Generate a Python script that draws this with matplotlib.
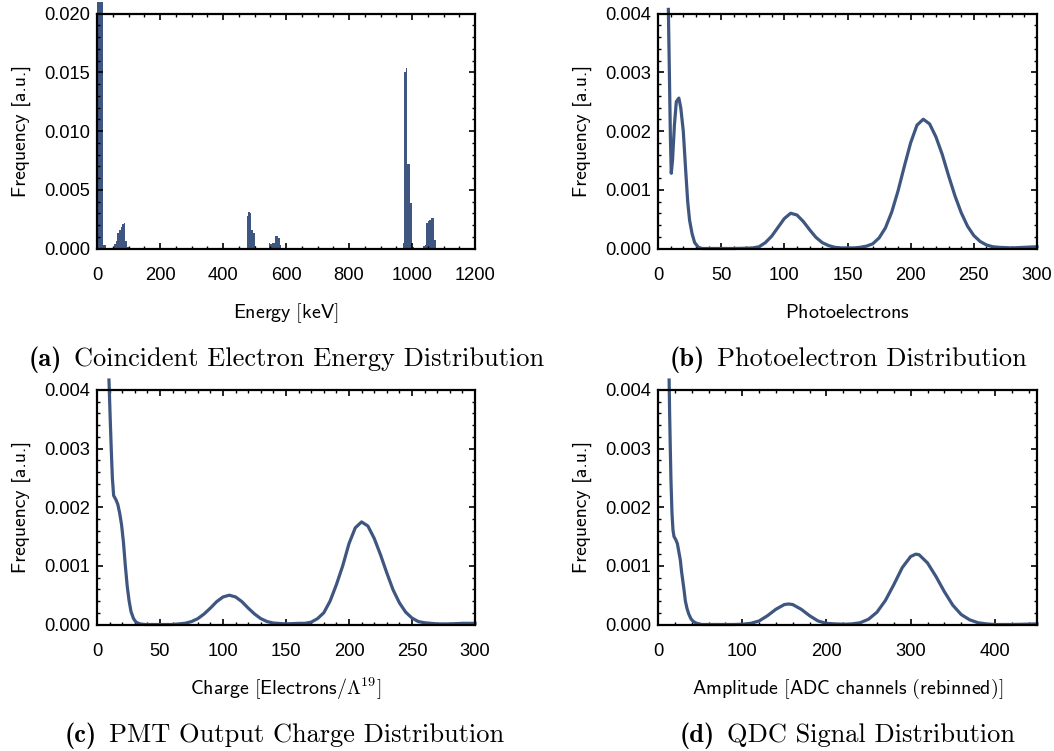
import matplotlib
matplotlib.use("Agg")
import matplotlib.pyplot as plt
from matplotlib.ticker import MultipleLocator, FormatStrFormatter

plt.rcParams['font.family'] = ['Liberation Sans', 'DejaVu Sans']
plt.rcParams['mathtext.fontset'] = 'cm'

# --- (a) coincident electron energy histogram (5 keV bins, left edges) ---
energy_bins = [0, 5, 10, 15, 20, 25,
               55, 60, 65, 70, 75, 80, 85, 90, 95,
               475, 480, 485, 490, 495, 500,
               545, 550, 555, 560, 565, 570, 575, 580,
               970, 975, 980, 985, 990, 995, 1000,
               1035, 1040, 1045, 1050, 1055, 1060, 1065, 1070]
energy_freq = [0.021, 0.021, 0.021, 0.021, 0.0003, 0.0003,
               0.0004, 0.0006, 0.0013, 0.0016, 0.0018, 0.0021, 0.0022, 0.0006, 0.0001,
               0.0028, 0.0031, 0.0030, 0.0016, 0.0013, 0.0002,
               0.0005, 0.0004, 0.0005, 0.0005, 0.0011, 0.0011, 0.0009, 0.0003,
               0.0005, 0.0150, 0.0154, 0.0072, 0.0072, 0.0039, 0.0001,
               0.0002, 0.0003, 0.0022, 0.0023, 0.0024, 0.0026, 0.0026, 0.0007]

# --- (b) photoelectron distribution ---
pe_x = [8.2, 9.0, 9.8, 10.5, 11.5, 13.0, 14.5, 16.5, 18.0, 20.0,
        22.0, 23.5, 25.0, 27.0, 29.0, 32.0, 35.0, 40, 50, 60,
        70, 75, 80, 85, 90, 95, 100, 105, 110, 115,
        120, 125, 130, 135, 140, 145, 150, 155, 160, 165,
        170, 175, 180, 185, 190, 195, 200, 205, 210, 215,
        220, 225, 230, 235, 240, 245, 250, 255, 260, 265,
        270, 280, 290, 300]
pe_y = [0.00407, 0.0030, 0.0019, 0.00128, 0.0015, 0.0021, 0.0025, 0.00256, 0.0024, 0.0020,
        0.0013, 0.0008, 0.00048, 0.00025, 0.0001, 0.00002, 0.0, 0.0, 0.0, 0.0,
        0.000005, 0.00001, 0.00003, 0.0001, 0.00021, 0.00036, 0.00051, 0.0006, 0.00057, 0.00046,
        0.00032, 0.00019, 0.0001, 0.00005, 0.00002, 0.00001, 0.00001, 0.00001, 0.00002, 0.00004,
        0.00008, 0.00018, 0.00035, 0.00062, 0.00098, 0.0014, 0.0018, 0.0021, 0.0022, 0.00212,
        0.0019, 0.0016, 0.00124, 0.0009, 0.00061, 0.00038, 0.00022, 0.00012, 0.00006, 0.00003,
        0.00002, 0.00001, 0.00002, 0.00003]

# --- (c) PMT output charge distribution ---
ch_x = [9.5, 10.5, 11.3, 12.2, 13.2, 15.0, 16.5, 18.0, 19.5, 21.0,
        22.5, 24.0, 25.5, 27.0, 29.0, 31.0, 34.0, 38.0, 50, 60,
        65, 70, 75, 80, 85, 90, 95, 100, 105, 110,
        115, 120, 125, 130, 135, 140, 150, 160, 165, 170,
        175, 180, 185, 190, 195, 200, 205, 210, 215, 220,
        225, 230, 235, 240, 245, 250, 255, 260, 270, 280,
        290, 300]
ch_y = [0.00417, 0.0035, 0.0030, 0.0025, 0.0022, 0.00213, 0.00205, 0.0019, 0.0017, 0.0014,
        0.0010, 0.00065, 0.0004, 0.00022, 0.0001, 0.00004, 0.00001, 0.0, 0.0, 0.0,
        0.00001, 0.000022, 0.00005, 0.0001, 0.00018, 0.00028, 0.00039, 0.00047, 0.0005, 0.00047,
        0.00039, 0.00028, 0.00018, 0.0001, 0.00005, 0.000025, 0.00001, 0.00002, 0.00002, 0.00004,
        0.0001, 0.0002, 0.0004, 0.00068, 0.001, 0.00138, 0.00165, 0.00175, 0.00168, 0.00147,
        0.00119, 0.00088, 0.00059, 0.00037, 0.00021, 0.00011, 0.00005, 0.00003, 0.00001, 0.00001,
        0.00002, 0.00002]

# --- (d) QDC signal distribution ---
qd_x = [13.2, 13.8, 14.6, 15.4, 16.6, 17.8, 19.0, 21.0, 23.0, 25.0,
        26.5, 28.0, 29.5, 31.0, 32.5, 34.5, 36.5, 39.0, 42.0, 46.0,
        52.0, 70, 90, 100, 110, 120, 130, 140, 150, 155,
        160, 170, 180, 190, 200, 210, 222, 230, 240, 250,
        260, 270, 280, 290, 300, 306, 310, 320, 330, 340,
        350, 360, 370, 380, 390, 400, 420, 450]
qd_y = [0.00417, 0.0036, 0.0030, 0.00246, 0.0019, 0.00161, 0.0015, 0.00145, 0.00138, 0.00122,
        0.0011, 0.0009, 0.00074, 0.00058, 0.0004, 0.00027, 0.00018, 0.0001, 0.00005, 0.00002,
        0.0, 0.0, 0.0, 0.000005, 0.00002, 0.00006, 0.00015, 0.00026, 0.00034, 0.00035,
        0.00034, 0.00026, 0.00015, 0.00006, 0.00002, 0.00001, 0.000005, 0.00001, 0.00003, 0.00009,
        0.00021, 0.00041, 0.00068, 0.00097, 0.00116, 0.0012, 0.00119, 0.00105, 0.00082, 0.00056,
        0.00033, 0.00017, 0.00008, 0.00003, 0.00001, 0.0, 0.0, 0.00001]

color = '#3e5680'
W, H = 1054, 751

fig = plt.figure(figsize=(W / 100, H / 100), dpi=100)


def make_ax(left, top, right, bottom):
    return fig.add_axes([left / W, 1 - bottom / H, (right - left) / W, (bottom - top) / H])


ax_a = make_ax(97, 13.5, 475, 248.5)
ax_b = make_ax(658, 13.5, 1037, 248.5)
ax_c = make_ax(97, 390, 475, 624.5)
ax_d = make_ax(658, 390, 1037, 624.5)


def style(ax, xmax, xmaj, xmin, ymax, ymaj, xlabel):
    ax.set_xlim(0, xmax)
    ax.set_ylim(0, ymax)
    ax.xaxis.set_major_locator(MultipleLocator(xmaj))
    ax.xaxis.set_minor_locator(MultipleLocator(xmin))
    ax.yaxis.set_major_locator(MultipleLocator(ymaj))
    ax.yaxis.set_minor_locator(MultipleLocator(ymaj / 5))
    ax.yaxis.set_major_formatter(FormatStrFormatter('%.3f'))
    ax.tick_params(which='both', direction='in', top=True, right=True,
                   labelsize=13.2, color='black')
    ax.tick_params(axis='x', pad=13)
    ax.tick_params(axis='y', pad=5)
    ax.tick_params(which='major', length=4.5, width=1.2)
    ax.tick_params(which='minor', length=2.5, width=1.0)
    for sp in ax.spines.values():
        sp.set_linewidth(1.6)
    ax.text(0.5, -0.273, xlabel, transform=ax.transAxes, ha='center', va='center', fontsize=14.4)
    ax.text(-0.199, 0.5, 'Frequency [a.u.]', transform=ax.transAxes, family='cmss10',
            ha='center', va='center', rotation=90, fontsize=14.2)


def caption(x_start, y_base, label, text):
    # bold sub-figure tag followed by the caption in roman
    fig.text((x_start - 12) / W, 1 - y_base / H, label, ha='right', va='baseline',
             family='cmb10', fontsize=19)
    fig.text(x_start / W, 1 - y_base / H, text, ha='left', va='baseline',
             family='cmr10', fontsize=19)


ax_a.bar(energy_bins, energy_freq, width=5, align='edge', color=color, linewidth=0, clip_on=False)
style(ax_a, 1200, 200, 50, 0.020, 0.005, r'$\mathsf{Energy\ [keV]}$')
caption(74, 366, '(a)', 'Coincident Electron Energy Distribution')

ax_b.plot(pe_x, pe_y, color=color, lw=2.3, clip_on=False, solid_joinstyle='round')
style(ax_b, 300, 50, 10, 0.004, 0.001, r'$\mathsf{Photoelectrons}$')
caption(717, 366, '(b)', 'Photoelectron Distribution')

ax_c.plot(ch_x, ch_y, color=color, lw=2.3, clip_on=False, solid_joinstyle='round')
style(ax_c, 300, 50, 10, 0.004, 0.001, r'$\mathsf{Charge\ [Electrons/}\Lambda^{19}\mathsf{]}$')
caption(109, 742, '(c)', 'PMT Output Charge Distribution')

ax_d.plot(qd_x, qd_y, color=color, lw=2.3, clip_on=False, solid_joinstyle='round')
style(ax_d, 450, 100, 20, 0.004, 0.001, r'$\mathsf{Amplitude\ [ADC\ channels\ (rebinned)]}$')
caption(727, 742, '(d)', 'QDC Signal Distribution')

fig.savefig('out.png', dpi=100)
